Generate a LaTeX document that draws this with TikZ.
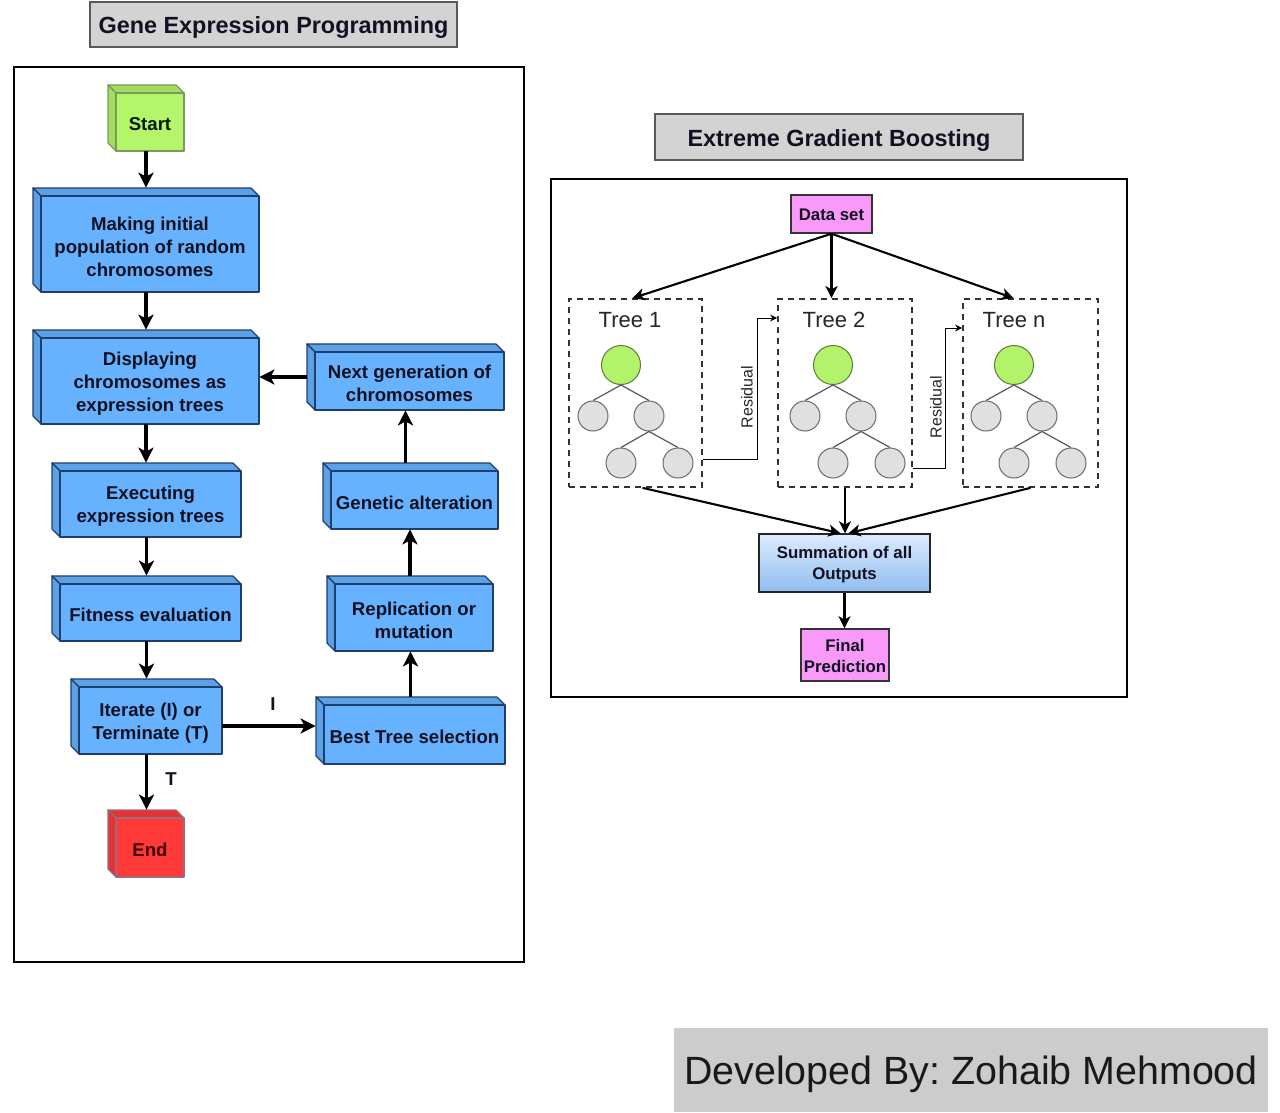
\documentclass[tikz,border=0pt]{standalone}
\usepackage{fontspec}
\setmainfont{Liberation Sans}
\setsansfont{Liberation Sans}
\frenchspacing
\usetikzlibrary{arrows.meta,fit,calc}
\definecolor{cubeblue}{HTML}{66B2FF}
\definecolor{cubeedge}{HTML}{1F3F6B}
\definecolor{startgreen}{HTML}{B5F56C}
\definecolor{startedge}{HTML}{7A9A5A}
\definecolor{endred}{HTML}{FF3838}
\definecolor{endedge}{HTML}{9A6A80}
\definecolor{pinkbox}{HTML}{F99AF9}
\definecolor{titlegray}{HTML}{D3D3D3}
\definecolor{rootgreen}{HTML}{B3F26B}
\definecolor{rootedge}{HTML}{5A7F3A}
\definecolor{leafgray}{HTML}{E0E0E0}
\definecolor{leafedge}{HTML}{6B6B6B}
\definecolor{sumtop}{HTML}{DCECFD}
\definecolor{sumbot}{HTML}{8FBDF0}
\definecolor{textdark}{HTML}{111122}

\newcommand\cubebox[9]{% #1 name, #2 x1, #3 y1, #4 x2, #5 y2, #6 fill, #7 edge, #8 text colour, #9 text
  \coordinate (#1-nw) at (#2,#3);
  \coordinate (#1-se) at (#4,#5);
  \node[fit=(#1-nw)(#1-se), inner sep=0pt] (#1) {};
  \filldraw[fill=#6!90!black, draw=#7, line width=0.6pt, line join=round]
    (#2,#3) -- ({#4-8},#3) -- (#4,{#3+8}) -- ({#2+8},{#3+8}) -- cycle;
  \filldraw[fill=#6!90!black, draw=#7, line width=0.6pt, line join=round]
    (#2,#3) -- ({#2+8},{#3+8}) -- ({#2+8},#5) -- (#2,{#5-8}) -- cycle;
  \filldraw[fill=#6, draw=#7, line width=0.6pt, line join=round]
    ({#2+8},{#3+8}) rectangle (#4,#5);
  \node[cubetext, text=#8] at ({(#2+8+#4)/2},{(#3+8+#5)/2+2.5}) {#9};
}

\tikzset{
  cubetext/.style={align=center, text=textdark, inner sep=0pt,
    font=\fontsize{9.3pt}{11.5pt}\selectfont\bfseries},
  bigarrow/.style={line width=1.6pt, -{Stealth[length=7.5pt,width=7.5pt,inset=2pt]}},
  midarrow/.style={line width=1.05pt, -{Stealth[length=6pt,width=6pt,inset=1.6pt]}},
  thinarrow/.style={line width=0.5pt, -{Stealth[length=3.5pt,width=3.4pt]}},
  titlebox/.style={draw=black!65, line width=0.6pt, fill=titlegray, inner sep=0pt},
  framebox/.style={draw=black, line width=1.3pt, inner sep=0pt},
  dashbox/.style={draw=black!80, line width=0.85pt, dash pattern=on 3pt off 2.5pt, inner sep=0pt},
  pinkrect/.style={draw=black!80, line width=0.7pt, fill=pinkbox, inner sep=0pt},
  smalltext/.style={align=center, text=textdark, inner sep=0pt,
    font=\fontsize{8.4pt}{10.5pt}\selectfont\bfseries},
  rootc/.style={circle, draw=rootedge, line width=0.5pt, fill=rootgreen, minimum size=19.5pt, inner sep=0pt},
  leafc/.style={circle, draw=leafedge, line width=0.5pt, fill=leafgray, minimum size=15pt, inner sep=0pt},
  treeedge/.style={draw=black!65, line width=0.6pt},
  titletext/.style={font=\fontsize{11.7pt}{14pt}\selectfont\bfseries, text=textdark},
  treelabel/.style={font=\fontsize{11pt}{13pt}\selectfont, text=black!85},
  reslabel/.style={rotate=90, font=\fontsize{8pt}{10pt}\selectfont, text=black!85},
}

\begin{document}
\begin{tikzpicture}[x=0.5pt,y=-0.5pt]
\useasboundingbox (0,0) rectangle (1280,1113);
\fill[white] (0,0) rectangle (1280,1113);

% ---------- Left panel ----------
\coordinate (ta) at (90,2); \coordinate (tb) at (457,47);
\node[titlebox, fit=(ta)(tb)] (title1) {};
\node[titletext] at ($(title1)+(0,3)$) {Gene Expression Programming};

\coordinate (fa) at (14,67); \coordinate (fb) at (524,962);
\node[framebox, fit=(fa)(fb)] (frame1) {};

\cubebox{start}{108}{85}{184}{151}{startgreen}{startedge}{black!90!green}{Start}
\cubebox{init}{33}{188}{259}{292}{cubeblue}{cubeedge}{textdark}{Making initial\\population of random\\chromosomes}
\cubebox{disp}{33}{330}{259}{424}{cubeblue}{cubeedge}{textdark}{Displaying\\chromosomes as\\expression trees}
\cubebox{next}{307}{344}{504}{410}{cubeblue}{cubeedge}{textdark}{Next generation of\\chromosomes}
\cubebox{exec}{52}{463}{241}{537}{cubeblue}{cubeedge}{textdark}{Executing\\expression trees}
\cubebox{gen}{323}{463}{498}{529}{cubeblue}{cubeedge}{textdark}{Genetic alteration}
\cubebox{fitn}{52}{576}{241}{641}{cubeblue}{cubeedge}{textdark}{Fitness evaluation}
\cubebox{rep}{327}{576}{493}{651}{cubeblue}{cubeedge}{textdark}{Replication or\\mutation}
\cubebox{iter}{71}{679}{222}{754}{cubeblue}{cubeedge}{textdark}{Iterate (I) or\\Terminate (T)}
\cubebox{best}{316}{697}{505}{764}{cubeblue}{cubeedge}{textdark}{Best Tree selection}
\cubebox{end}{108}{810}{184}{877}{endred}{endedge}{black!75!red}{End}

\draw[bigarrow] (start.south) -- (start.south |- init.north);
\draw[bigarrow] (init.south) -- (init.south |- disp.north);
\draw[bigarrow] (disp.south) -- (disp.south |- exec.north);
\draw[bigarrow] (exec.south) -- (exec.south |- fitn.north);
\draw[bigarrow] (fitn.south) -- (fitn.south |- iter.north);
\draw[bigarrow] (iter.south) -- (iter.south |- end.north);
\draw[bigarrow] ($(iter.east)+(0,9.5)$) coordinate (ib) -- (ib -| best.west);
\draw[bigarrow] (best.north) -- (best.north |- rep.south);
\draw[bigarrow] (rep.north) -- (rep.north |- gen.south);
\draw[bigarrow] (gen.north -| next.south) -- (next.south);
\draw[bigarrow] (next.west) -- (next.west -| disp.east);

\node[cubetext] (lblI) at (273,704) {I};
\node[cubetext] (lblT) at (171,779) {T};

% ---------- Right panel ----------
\coordinate (tc) at (655,114); \coordinate (td) at (1023,160);
\node[titlebox, fit=(tc)(td)] (title2) {};
\node[titletext] at ($(title2)+(0,3.5)$) {Extreme Gradient Boosting};

\coordinate (fc) at (551,179); \coordinate (fd) at (1127,697);
\node[framebox, fit=(fc)(fd)] (frame2) {};

\coordinate (da) at (791,195); \coordinate (db) at (872,233);
\node[pinkrect, fit=(da)(db)] (ds) {};
\node[smalltext] at ($(ds)+(0,0.5)$) {Data set};

\coordinate (t1a) at (569,299); \coordinate (t1b) at (702,487);
\node[dashbox, fit=(t1a)(t1b)] (t1) {};
\coordinate (t2a) at (778,299); \coordinate (t2b) at (912,487);
\node[dashbox, fit=(t2a)(t2b)] (t2) {};
\coordinate (tna) at (963,299); \coordinate (tnb) at (1098,487);
\node[dashbox, fit=(tna)(tnb)] (tn) {};

\node[treelabel] at (630,320) {Tree 1};
\node[treelabel] at (834,320) {Tree 2};
\node[treelabel] at (1014,320) {Tree n};

\foreach \n/\x in {a/621, b/833, c/1014} {
  \node[rootc] (\n r) at (\x,365) {};
  \node[leafc] (\n l) at (\x-28,416) {};
  \node[leafc] (\n m) at (\x+28,416) {};
  \node[leafc] (\n p) at (\x,463) {};
  \node[leafc] (\n q) at (\x+57,463) {};
  \draw[treeedge] (\n r.south) -- (\n l.north);
  \draw[treeedge] (\n r.south) -- (\n m.north);
  \draw[treeedge] (\n m.south) -- (\n p.north);
  \draw[treeedge] (\n m.south) -- (\n q.north);
}

\draw[midarrow] (ds.south) -- ($(t1.north)+(-3,0)$);
\draw[midarrow] (ds.south) -- (ds.south |- t2.north);
\draw[midarrow] (ds.south) -- ($(tn.north)+(-17,0)$);

\draw[thinarrow] ($(t1.east)+(0,66)$) -| ($(t2.west)+(-20,-75)$) -- ($(t2.west)+(0,-75)$);
\draw[thinarrow] ($(t2.east)+(0,75)$) -| ($(tn.west)+(-17,-65)$) -- ($(tn.west)+(0,-65)$);
\node[reslabel] (res1) at (747,397) {Residual};
\node[reslabel] (res2) at (936,407) {Residual};

\coordinate (sa) at (759,534); \coordinate (sb) at (930,592);
\node[draw=black!85, line width=0.7pt, top color=sumtop, bottom color=sumbot, fit=(sa)(sb), inner sep=0pt] (sum) {};
\node[smalltext] at ($(sum)+(0,1.5)$) {Summation of all\\Outputs};

\coordinate (pa) at (801,629); \coordinate (pb) at (889,681);
\node[pinkrect, fit=(pa)(pb)] (final) {};
\node[smalltext] at ($(final)+(0,1)$) {Final\\Prediction};

\draw[midarrow] ($(t1.south)+(7,0)$) -- ($(sum.north)+(-4,0)$);
\draw[midarrow] (t2.south) -- (t2.south |- sum.north);
\draw[midarrow] (tn.south) -- ($(sum.north)+(4,0)$);
\draw[midarrow] (sum.south) -- (sum.south |- final.north);

% ---------- Footer ----------
\coordinate (ga) at (674,1028); \coordinate (gb) at (1268,1112);
\node[fill=black!20, fit=(ga)(gb), inner sep=0pt] (dev) {};
\node[font=\fontsize{19.7pt}{23pt}\selectfont, text=black!90] at ($(dev)+(0,4)$) {Developed By: Zohaib Mehmood};
\end{tikzpicture}
\end{document}
